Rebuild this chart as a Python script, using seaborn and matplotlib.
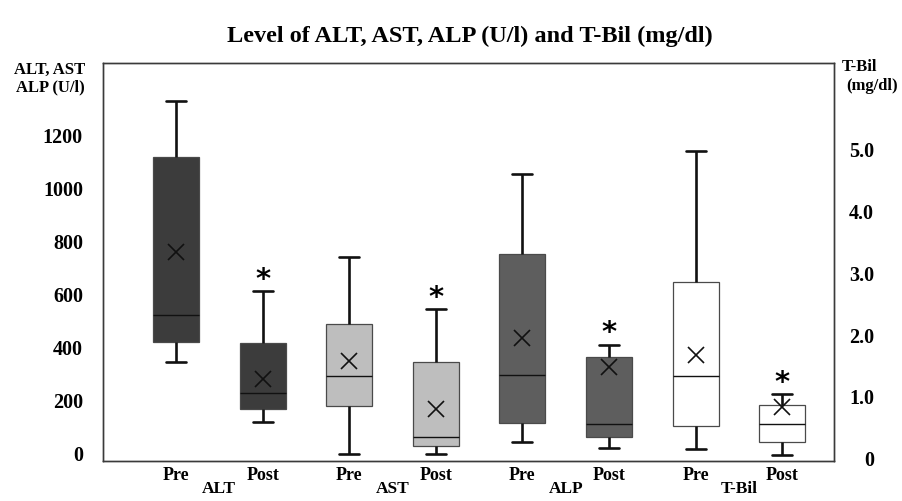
import numpy as np
import pandas as pd
import matplotlib
matplotlib.use("Agg")
import matplotlib.pyplot as plt
import seaborn as sns

# ---------------- data ----------------
groups = ["ALT", "AST", "ALP", "T-Bil"]
phases = ["Pre", "Post"]
boxes = ["ALT Pre", "ALT Post", "AST Pre", "AST Post",
         "ALP Pre", "ALP Post", "T-Bil Pre", "T-Bil Post"]
box_phase = ["Pre", "Post", "Pre", "Post", "Pre", "Post", "Pre", "Post"]
# five-number summaries: minimum, Q1, median, Q3, maximum  (U/l, T-Bil in mg/dl)
box_min    = [345, 119,   0,   0,   44,  21, 0.16, 0.06]
box_q1     = [421, 170, 181,  30,  118,  65, 0.53, 0.26]
box_median = [524, 229, 294,  65,  298, 112, 1.34, 0.55]
box_q3     = [1117, 417, 488, 345, 753, 367, 2.86, 0.87]
box_max    = [1330, 614, 741, 546, 1055, 411, 4.98, 1.04]
box_mean   = [760, 282, 351, 168,  436, 329, 1.68, 0.84]
significant = [False, True, False, True, False, True, False, True]
axis_side = ["left"] * 6 + ["right"] * 2
box_colors = ["#3c3c3c", "#3c3c3c", "#bebebe", "#bebebe",
              "#5e5e5e", "#5e5e5e", "#ffffff", "#ffffff"]
left_ticks = [0, 200, 400, 600, 800, 1000, 1200]
right_ticks = [0, 1, 2, 3, 4, 5]
right_tick_labels = ["0", "1.0", "2.0", "3.0", "4.0", "5.0"]
title = "Level of ALT, AST, ALP (U/l) and T-Bil (mg/dl)"

# ---------------- tables ----------------
rows = []
for b, side, mn, q1, md, q3, mx in zip(boxes, axis_side, box_min, box_q1,
                                       box_median, box_q3, box_max):
    for v in (mn, q1, md, q3, mx):
        rows.append({"box": b, "value": v, "side": side})
df = pd.DataFrame(rows)
means = pd.DataFrame({"box": boxes, "mean": box_mean, "side": axis_side})

# ---------------- figure ----------------
sns.set_theme(style="white")
plt.rcParams["font.family"] = ["Liberation Serif", "DejaVu Serif"]
plt.rcParams["font.weight"] = "bold"
for k in ("text.color", "axes.labelcolor", "xtick.color", "ytick.color"):
    plt.rcParams[k] = "black"

fig = plt.figure(figsize=(9.03, 5.01), dpi=100)
ax = fig.add_axes([103 / 903, 1 - 461 / 501, (834 - 103) / 903, (461 - 63) / 501])
ax2 = ax.twinx()

pal = dict(zip(boxes, box_colors))
common = dict(x="box", y="value", hue="box", order=boxes, hue_order=boxes,
              palette=pal, saturation=1, width=0.53, dodge=False,
              whis=(0, 100), legend=False, fliersize=0,
              linecolor="#4a4a4a", linewidth=0.9,
              whiskerprops=dict(color="#111111", linewidth=1.9),
              capprops=dict(color="#111111", linewidth=1.9),
              medianprops=dict(color="#111111", linewidth=1.0),
              capwidths=0.23)
sns.boxplot(data=df[df.side == "left"], ax=ax, **common)
sns.boxplot(data=df[df.side == "right"], ax=ax2, **common)

pk = dict(x="box", y="mean", order=boxes, color="#111111", marker="x",
          linestyle="none", errorbar=None, markersize=11, markeredgewidth=1.2)
sns.pointplot(data=means[means.side == "left"], ax=ax, **pk)
sns.pointplot(data=means[means.side == "right"], ax=ax2, **pk)

# significance asterisks above the upper whisker of Post boxes
for i, (mx, sig, side) in enumerate(zip(box_max, significant, axis_side)):
    if sig:
        target = ax if side == "left" else ax2
        target.annotate("*", xy=(i, mx), xytext=(0, 2.5), textcoords="offset points",
                        ha="center", va="baseline", fontsize=21,
                        family="DejaVu Sans", color="black", weight="bold")

# ---------------- axes styling ----------------
for a in (ax, ax2):
    a.set_xlabel("")
    a.set_ylabel("")
    for s in a.spines.values():
        s.set_visible(True)
        s.set_color("#3a3a3a")
        s.set_linewidth(1.0)

ax.set_xlim(-0.843, 7.598)
ax.set_ylim(-26.4, 1472.7)
ax2.set_ylim(-0.042, 6.41)

ax.set_yticks(left_ticks)
ax.set_yticklabels([str(t) for t in left_ticks])
ax2.set_yticks(right_ticks)
ax2.set_yticklabels(right_tick_labels)
ax.set_xticks(range(len(boxes)))
ax.set_xticklabels(box_phase)

ax.tick_params(axis="y", length=0, pad=14.4, labelsize=14.5, labelcolor="black")
ax2.tick_params(axis="y", length=0, pad=28.8, labelsize=14.5, labelcolor="black")
for lab in ax2.get_yticklabels():
    lab.set_horizontalalignment("right")
ax.tick_params(axis="x", length=0, pad=4.0, labelsize=13, labelcolor="black")
for lab in ax.get_xticklabels() + ax.get_yticklabels() + ax2.get_yticklabels():
    lab.set_fontweight("bold")

# group labels under each Pre/Post pair
for g, name in enumerate(groups):
    ax.annotate(name, xy=(2 * g + 0.5, 0), xycoords=("data", "axes fraction"),
                xytext=(0, -20.5), textcoords="offset points",
                ha="center", va="center", fontsize=12.5, weight="bold")

# axis titles
fig.text(50 / 903, 1 - 70 / 501, "ALT, AST", ha="center", va="center",
         fontsize=12, weight="bold")
fig.text(50 / 903, 1 - 87 / 501, "ALP (U/l)", ha="center", va="center",
         fontsize=12, weight="bold")
fig.text(842 / 903, 1 - 67 / 501, "T-Bil", ha="left", va="center",
         fontsize=12, weight="bold")
fig.text(846 / 903, 1 - 86 / 501, "(mg/dl)", ha="left", va="center",
         fontsize=12, weight="bold")

fig.text(470 / 903, 1 - 42 / 501, title, ha="center", va="baseline",
         fontsize=17.5, weight="bold")

fig.savefig("out.png", dpi=100, facecolor="white")
